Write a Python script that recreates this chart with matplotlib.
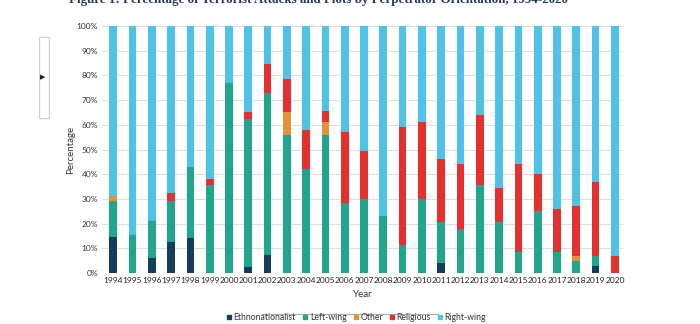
import matplotlib.pyplot as plt
import matplotlib.patches as mpatches
from matplotlib.lines import Line2D
import numpy as np

# data (percent of attacks per year)
years = [str(y) for y in range(1994, 2021)]
ethno = [14.5, 0, 6, 12.5, 14.3, 0, 0, 2.5, 7.5, 0, 0, 0, 0, 0,
         0, 0, 0, 4, 0, 0, 0, 0, 0, 0, 0, 2.7, 0]
left_wing = [14.5, 15.5, 15, 16.5, 28.6, 35.5, 77, 60, 65.5, 56, 42, 56, 28.5, 30,
             23, 11.5, 30, 16.5, 18, 35.5, 20.5, 8.5, 25, 8.5, 5, 4.3, 0]
other = [2, 0, 0, 0, 0, 0, 0, 0, 0, 9, 0, 5, 0, 0,
         0, 0, 0, 0, 0, 0, 0, 0, 0, 0, 2, 0, 0]
religious = [0, 0, 0, 3.5, 0, 2.5, 0, 2.5, 11.5, 13.5, 16, 4.5, 28.5, 19.5,
             0, 47.5, 31, 25.5, 26, 28.5, 14, 35.5, 15, 17.5, 20, 30, 7]
right_wing = [100 - a - b - c - d for a, b, c, d in zip(ethno, left_wing, other, religious)]

series = [("Ethnonationalist", ethno, "#173D5E"),
          ("Left-wing", left_wing, "#1FA68C"),
          ("Other", other, "#E6913A"),
          ("Religious", religious, "#E5302E"),
          ("Right-wing", right_wing, "#4EC3E6")]

plt.rcParams["font.family"] = ["Lato", "DejaVu Sans"]

fig = plt.figure(figsize=(7, 3.24), dpi=100)
ax = fig.add_axes([0.146, 0.157, 0.744, 0.763])

x = np.arange(len(years))
bottom = np.zeros(len(years))
for name, vals, col in series:
    v = np.array(vals) / 100
    ax.bar(x, v, 0.4, bottom=bottom, color=col, zorder=3)
    bottom += v

ax.set_ylim(0, 1)
ax.set_xlim(-0.57, 26.42)
ax.set_yticks(np.arange(0, 1.01, 0.1))
ax.set_yticklabels([f"{int(round(t * 100))}%" for t in np.arange(0, 1.01, 0.1)],
                   fontsize=6, color="#333333")
ax.set_xticks(x)
ax.set_xticklabels(years, fontsize=6, color="#222222")
ax.tick_params(length=0, pad=3)
ax.grid(axis="y", color="#dcdcdc", lw=0.7, zorder=0)
for s in ax.spines.values():
    s.set_visible(False)
ax.set_ylabel("Percentage", fontsize=7, color="#333333", labelpad=1)
ax.set_xlabel("Year", fontsize=7, color="#333333", labelpad=4)

handles = [Line2D([], [], marker="s", ls="none", color=col, markersize=3, label=name)
           for name, _, col in series]
fig.legend(handles=handles, loc="center", bbox_to_anchor=(0.508, 0.02), ncol=5,
           frameon=False, fontsize=6.2, handletextpad=0.0, columnspacing=0.6,
           handlelength=1.0, labelcolor="#333333")

# thin gray line over the legend (screenshot artifact)
fig.add_artist(Line2D([262 / 700, 438 / 700], [1 - 314 / 324, 1 - 314 / 324],
                      transform=fig.transFigure, color="#aaaaaa", lw=0.8))

fig.text(0.098, 1.0, "Figure 1: Percentage of Terrorist Attacks and Plots by Perpetrator "
         "Orientation, 1994-2020", family="Liberation Serif", fontweight="bold",
         fontsize=9.4, color="#1F3A60", ha="left", va="center")

# small collapsed side tab from the page
tab = mpatches.FancyBboxPatch((41 / 700, 1 - 118 / 324), 7 / 700, 80 / 324,
                              boxstyle="round,pad=0.002", transform=fig.transFigure,
                              fc="white", ec="#cccccc", lw=0.8)
fig.patches.append(tab)
fig.text(43 / 700, 1 - 77 / 324, "▶", fontsize=5, color="#222222",
         ha="center", va="center", family="DejaVu Sans")

fig.savefig("out.png", dpi=100)
